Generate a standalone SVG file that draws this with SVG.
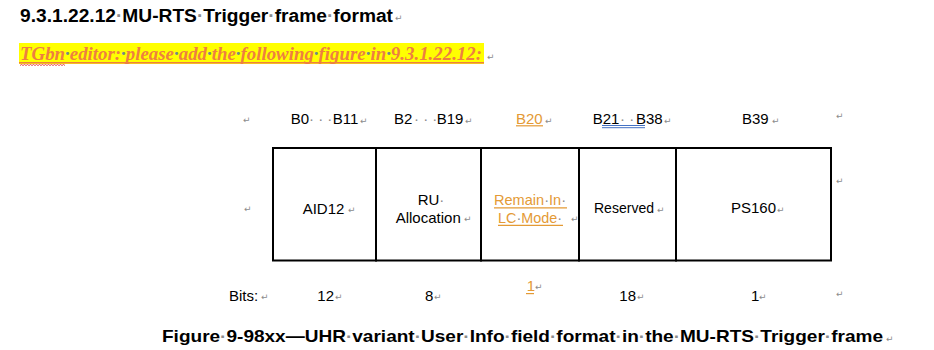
<svg xmlns="http://www.w3.org/2000/svg" width="934" height="350" viewBox="0 0 934 350">
<style>
.t{font-family:"Liberation Sans",Arial,sans-serif;font-size:15px;fill:#000}
.o{fill:#E49A35}
.d{fill:#8c8c8c}
.pm{font-family:"DejaVu Sans",sans-serif;font-size:9px;fill:#8c8c8c}
.h{font-family:"Liberation Sans",Arial,sans-serif;font-weight:bold;fill:#000}
.cell{fill:#fff;stroke:#000;stroke-width:2}
.ul{stroke:#E49A35;stroke-width:1.2}
</style>
<rect width="934" height="350" fill="#fff"/>
<g id="heading">
<text class="h" x="20" y="22" font-size="18" textLength="373" lengthAdjust="spacingAndGlyphs">9.3.1.22.12<tspan class="d">·</tspan>MU-RTS<tspan class="d">·</tspan>Trigger<tspan class="d">·</tspan>frame<tspan class="d">·</tspan>format</text>
<text class="pm" x="395" y="21">↵</text>
</g>
<g id="editor-note">
<rect x="19" y="43" width="465" height="21" fill="#FFFF00"/>
<text x="20" y="60" font-family="'Liberation Serif','Times New Roman',serif" font-style="italic" font-weight="bold" font-size="19" fill="#EE7F40" textLength="462" lengthAdjust="spacingAndGlyphs">TGbn<tspan fill="#6f8a8a">·</tspan>editor:<tspan fill="#6f8a8a">·</tspan>please<tspan fill="#6f8a8a">·</tspan>add<tspan fill="#6f8a8a">·</tspan>the<tspan fill="#6f8a8a">·</tspan>following<tspan fill="#6f8a8a">·</tspan>figure<tspan fill="#6f8a8a">·</tspan>in<tspan fill="#6f8a8a">·</tspan>9.3.1.22.12:</text>
<line x1="19" y1="62.8" x2="484" y2="62.8" stroke="#EE7F40" stroke-width="1.6"/>
<path d="M20 65.5 l1.5 -1 l1.5 1 l1.5 -1 l1.5 1 l1.5 -1 l1.5 1 l1.5 -1 l1.5 1 l1.5 -1 l1.5 1 l1.5 -1 l1.5 1 l1.5 -1 l1.5 1 l1.5 -1 l1.5 1 l1.5 -1 l1.5 1 l1.5 -1 l1.5 1 l1.5 -1 l1.5 1 l1.5 -1 l1.5 1 l1.5 -1 l1.5 1 l1.5 -1 l1.5 1 l1.5 -1 l1.5 1" fill="none" stroke="#E02020" stroke-width="0.8"/>
<text class="pm" x="487" y="60">↵</text>
</g>
<g id="bit-labels">
<text class="pm" x="243" y="123">↵</text>
<text class="t" x="290.7" y="124">B0</text><text class="t d" x="309" y="124" font-size="12">· · ·</text><text class="t" x="332.7" y="124">B11</text><text class="pm" x="360" y="124">↵</text>
<text class="t" x="394" y="124">B2</text><text class="t d" x="414" y="124" font-size="12">· · ·</text><text class="t" x="436.7" y="124">B19</text><text class="pm" x="465" y="124">↵</text>
<text class="t o" x="516" y="124">B20</text><line class="ul" x1="516" y1="125.8" x2="543" y2="125.8"/><text class="pm" x="545" y="124">↵</text>
<text class="t" x="592.7" y="124">B21</text><text class="t d" x="620" y="124" font-size="12">· ·</text><text class="t" x="636" y="124">B38</text>
<line x1="602" y1="125.5" x2="645" y2="125.5" stroke="#4472C4" stroke-width="1"/><line x1="602" y1="127.7" x2="645" y2="127.7" stroke="#4472C4" stroke-width="1"/>
<text class="pm" x="664" y="124">↵</text>
<text class="t" x="742" y="124">B39</text><text class="pm" x="772" y="124">↵</text>
<text class="pm" x="836" y="119">↵</text>
</g>
<g id="cell-aid12">
<rect class="cell" x="273" y="148" width="103" height="112.5"/>
<text class="t" x="302.7" y="214">AID12</text><text class="pm" x="348" y="213">↵</text>
</g>
<g id="cell-ru-allocation">
<rect class="cell" x="376" y="148" width="105" height="112.5"/>
<text class="t" x="417.7" y="205">RU<tspan class="d">·</tspan></text>
<text class="t" x="395.7" y="222.7">Allocation</text><text class="pm" x="464" y="222">↵</text>
</g>
<g id="cell-remain-in-lc-mode">
<rect class="cell" x="481" y="148" width="98" height="112.5"/>
<text class="t o" x="494" y="205" textLength="72" lengthAdjust="spacingAndGlyphs">Remain<tspan class="d">·</tspan>In<tspan class="d">·</tspan></text>
<line class="ul" x1="494" y1="207.8" x2="567" y2="207.8"/>
<text class="t o" x="498" y="222.7" textLength="64" lengthAdjust="spacingAndGlyphs">LC<tspan class="d">·</tspan>Mode<tspan class="d">·</tspan></text>
<line class="ul" x1="498" y1="225.3" x2="563" y2="225.3"/>
<text class="pm" x="571" y="222">↵</text>
</g>
<g id="cell-reserved">
<rect class="cell" x="579" y="148" width="97" height="112.5"/>
<text class="t" x="594" y="213" textLength="60" lengthAdjust="spacingAndGlyphs">Reserved</text><text class="pm" x="657" y="213">↵</text>
</g>
<g id="cell-ps160">
<rect class="cell" x="676" y="148" width="155" height="112.5"/>
<text class="t" x="731" y="213">PS160</text><text class="pm" x="777" y="213">↵</text>
</g>
<g id="side-marks">
<text class="pm" x="244" y="212">↵</text>
<text class="pm" x="836" y="184">↵</text>
</g>
<g id="bits-row">
<text class="t" x="229" y="301">Bits:</text><text class="pm" x="261" y="300">↵</text>
<text class="t" x="317.3" y="301">12</text><text class="pm" x="335" y="300">↵</text>
<text class="t" x="425" y="301">8</text><text class="pm" x="434" y="300">↵</text>
<text class="t o" x="526.7" y="291">1</text><line class="ul" x1="526" y1="293.6" x2="534" y2="293.6"/><text class="pm" x="535" y="290">↵</text>
<text class="t" x="619.3" y="301">18</text><text class="pm" x="637" y="300">↵</text>
<text class="t" x="751" y="301">1</text><text class="pm" x="759" y="300">↵</text>
<text class="pm" x="836" y="297">↵</text>
</g>
<g id="connectors"></g>
<g id="caption">
<text class="h" x="162" y="342" font-size="17" textLength="721" lengthAdjust="spacingAndGlyphs">Figure<tspan class="d">·</tspan>9-98xx—UHR<tspan class="d">·</tspan>variant<tspan class="d">·</tspan>User<tspan class="d">·</tspan>Info<tspan class="d">·</tspan>field<tspan class="d">·</tspan>format<tspan class="d">·</tspan>in<tspan class="d">·</tspan>the<tspan class="d">·</tspan>MU-RTS<tspan class="d">·</tspan>Trigger<tspan class="d">·</tspan>frame</text>
<text class="pm" x="886" y="342">↵</text>
</g>
</svg>
